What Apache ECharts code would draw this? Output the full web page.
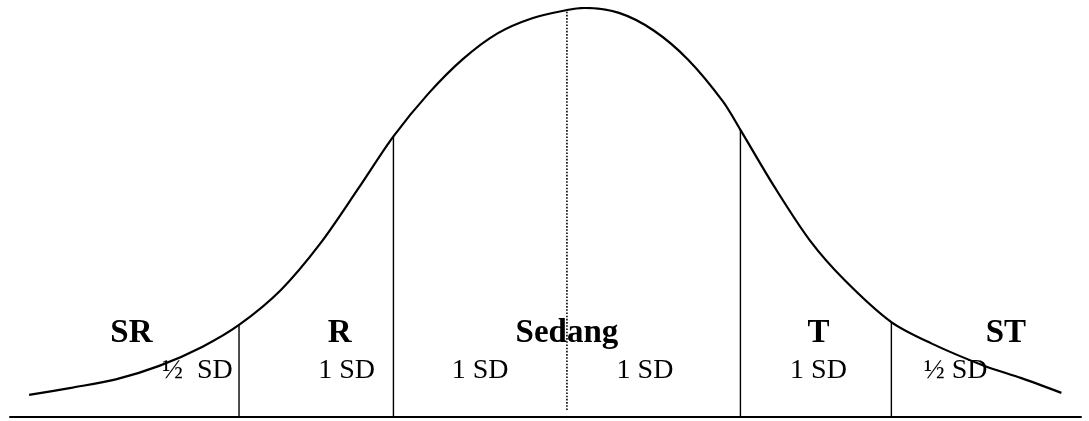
<!DOCTYPE html>
<html>
<head>
<meta charset="utf-8">
<title>Kurva normal</title>
<script src="https://cdn.jsdelivr.net/npm/echarts@6/dist/echarts.min.js"></script>
<style>
  html, body { margin: 0; padding: 0; background: #fff; }
  #chart { width: 1089px; height: 421px; }
</style>
</head>
<body>
<div id="chart"></div>
<script>
// curve: x in SD units from the mean, y relative to the peak
const curveZ = [-3.10, -2.85, -2.60, -2.35, -2.10, -1.89, -1.65, -1.42, -1.20, -1.00, -0.80, -0.60,
  -0.40, -0.20, 0.00, 0.10, 0.30, 0.50, 0.70, 0.90, 1.00, 1.20, 1.40, 1.60, 1.87, 2.10, 2.40,
  2.62, 2.85]
const curveH = [0.054, 0.072, 0.092, 0.125, 0.172, 0.225, 0.310, 0.425, 0.560, 0.686, 0.790, 0.875,
  0.938, 0.975, 0.995, 1.000, 0.988, 0.945, 0.873, 0.771, 0.702, 0.560, 0.432, 0.335, 0.232, 0.180, 0.126,
  0.095, 0.059]

// borders between the classes
const cutZ = [-1.89, -1.00, 0, 1.00, 1.87]
const cutTop = [0.225, 0.686, 0.995, 0.702, 0.232]

// class names and the width labels under them
const classNames = ['SR', 'R', 'Sedang', 'T', 'ST']
const classZ = [-2.51, -1.31, 0, 1.45, 2.53]
const widthLabels = ['\u00BD  SD', '1 SD', '1 SD', '1 SD', '1 SD', '\u00BD SD']
const widthZ = [-2.13, -1.27, -0.50, 0.45, 1.45, 2.24]

const serif = '"Liberation Serif", "Times New Roman", serif'

const chart = echarts.init(document.getElementById('chart'))

const cutSeries = cutZ.map((z, i) => ({
  type: 'line',
  silent: true,
  symbol: 'none',
  data: [[z, i === 2 ? 0.017 : 0], [z, cutTop[i]]],
  lineStyle: {
    color: '#000',
    width: i === 2 ? 1.6 : 1.4,
    type: i === 2 ? [1.6, 1.6] : 'solid'
  },
  z: 2
}))

function textSeries(names, xs, y, bold, size) {
  return {
    type: 'scatter',
    silent: true,
    symbolSize: 0,
    itemStyle: { opacity: 1 },
    data: names.map((name, i) => ({ name, value: [xs[i], y] })),
    label: {
      show: true,
      position: 'inside',
      formatter: p => p.name,
      color: '#000',
      opacity: 1,
      fontFamily: serif,
      fontWeight: bold ? 'bold' : 'normal',
      fontSize: size
    },
    z: 5
  }
}

chart.setOption({
  animation: false,
  grid: {
    left: 10,
    right: 8,
    top: 8,
    bottom: 4
  },
  xAxis: {
    type: 'value',
    min: -3.21,
    max: 2.963,
    axisLine: { show: true, onZero: false, lineStyle: { color: '#000', width: 2 } },
    axisTick: { show: false },
    axisLabel: { show: false },
    splitLine: { show: false }
  },
  yAxis: {
    type: 'value',
    min: 0,
    max: 1,
    show: false
  },
  series: [
    {
      type: 'line',
      silent: true,
      smooth: 0.3,
      symbol: 'none',
      data: curveZ.map((z, i) => [z, curveH[i]]),
      lineStyle: { color: '#000', width: 2.2 },
      z: 3
    },
    ...cutSeries,
    textSeries(classNames, classZ, 0.205, true, 33),
    textSeries(widthLabels, widthZ, 0.114, false, 28)
  ]
})
</script>
</body>
</html>
